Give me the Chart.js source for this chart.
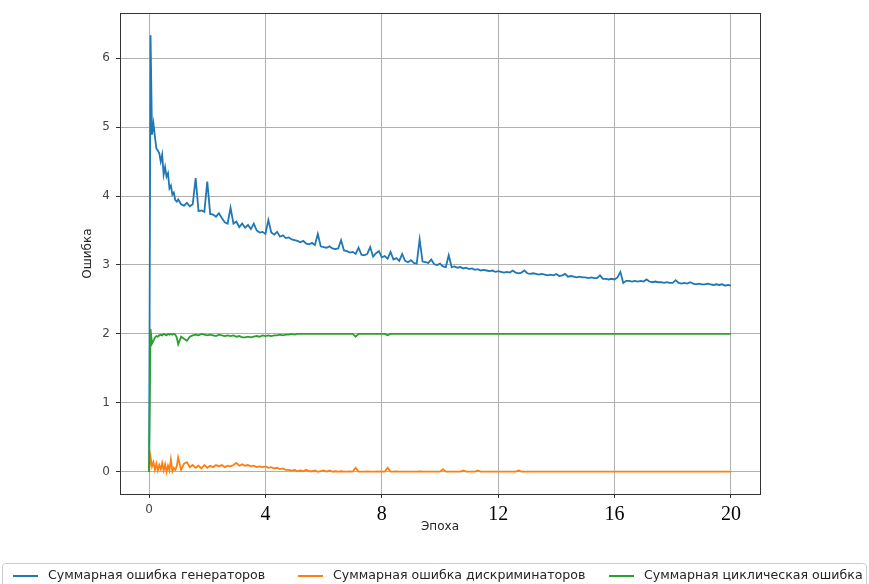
<!DOCTYPE html>
<html>
<head>
<meta charset="utf-8">
<script src="https://cdn.jsdelivr.net/npm/chart.js@4.4.0/dist/chart.umd.min.js"></script>
<style>
  html, body { margin: 0; padding: 0; background: #fff; }
</style>
</head>
<body>
<canvas id="lossChart" width="869" height="584"></canvas>
<script>
// epochs (x values)
var epochs = [
  0, 0.05, 0.1, 0.15, 0.2, 0.25, 0.3, 0.35, 0.4, 0.45, 0.5, 0.55, 0.6, 0.65, 0.7, 0.75, 0.8, 0.85, 0.9, 0.95, 1.0,
  1.1, 1.2, 1.3, 1.4, 1.5, 1.6, 1.7, 1.8, 1.9, 2.0,
  2.1, 2.2, 2.3, 2.4, 2.5, 2.6, 2.7, 2.8, 2.9, 3.0,
  3.1, 3.2, 3.3, 3.4, 3.5, 3.6, 3.7, 3.8, 3.9, 4.0,
  4.1, 4.2, 4.3, 4.4, 4.5, 4.6, 4.7, 4.8, 4.9, 5.0,
  5.1, 5.2, 5.3, 5.4, 5.5, 5.6, 5.7, 5.8, 5.9, 6.0,
  6.1, 6.2, 6.3, 6.4, 6.5, 6.6, 6.7, 6.8, 6.9, 7.0,
  7.1, 7.2, 7.3, 7.4, 7.5, 7.6, 7.7, 7.8, 7.9, 8.0,
  8.1, 8.2, 8.3, 8.4, 8.5, 8.6, 8.7, 8.8, 8.9, 9.0,
  9.1, 9.2, 9.3, 9.4, 9.5, 9.6, 9.7, 9.8, 9.9, 10.0,
  10.1, 10.2, 10.3, 10.4, 10.5, 10.6, 10.7, 10.8, 10.9, 11.0,
  11.1, 11.2, 11.3, 11.4, 11.5, 11.6, 11.7, 11.8, 11.9, 12.0,
  12.1, 12.2, 12.3, 12.4, 12.5, 12.6, 12.7, 12.8, 12.9, 13.0,
  13.1, 13.2, 13.3, 13.4, 13.5, 13.6, 13.7, 13.8, 13.9, 14.0,
  14.1, 14.2, 14.3, 14.4, 14.5, 14.6, 14.7, 14.8, 14.9, 15.0,
  15.1, 15.2, 15.3, 15.4, 15.5, 15.6, 15.7, 15.8, 15.9, 16.0,
  16.1, 16.2, 16.3, 16.4, 16.5, 16.6, 16.7, 16.8, 16.9, 17.0,
  17.1, 17.2, 17.3, 17.4, 17.5, 17.6, 17.7, 17.8, 17.9, 18.0,
  18.1, 18.2, 18.3, 18.4, 18.5, 18.6, 18.7, 18.8, 18.9, 19.0,
  19.1, 19.2, 19.3, 19.4, 19.5, 19.6, 19.7, 19.8, 19.9, 20.0
];

// Суммарная ошибка генераторов
var genLoss = [
  0, 6.33, 4.89, 5.05, 4.86, 4.69, 4.66, 4.62, 4.5, 4.6, 4.31, 4.42, 4.28, 4.33, 4.11, 4.15, 4.02, 4.05, 3.94, 3.92, 3.95,
  3.88, 3.86, 3.9, 3.85, 3.88, 4.26, 3.78, 3.79, 3.77, 4.21,
  3.74, 3.73, 3.7, 3.75, 3.68, 3.62, 3.6, 3.83, 3.6, 3.63,
  3.55, 3.6, 3.54, 3.58, 3.52, 3.6, 3.5, 3.47, 3.48, 3.45,
  3.65, 3.47, 3.44, 3.48, 3.41, 3.43, 3.39, 3.4, 3.37, 3.36,
  3.35, 3.33, 3.35, 3.31, 3.3, 3.32, 3.29, 3.45, 3.27, 3.26,
  3.25, 3.27, 3.24, 3.23, 3.24, 3.36, 3.21, 3.2, 3.18, 3.19,
  3.16, 3.25, 3.15, 3.14, 3.16, 3.26, 3.12, 3.17, 3.2, 3.11,
  3.13, 3.09, 3.19, 3.08, 3.1, 3.06, 3.16, 3.06, 3.04, 3.07,
  3.03, 3.02, 3.37, 3.05, 3.04, 3.03, 3.08, 3.01, 3.0, 3.02,
  2.98, 2.97, 3.14, 2.97, 2.98, 2.96, 2.97, 2.95, 2.96, 2.94,
  2.95, 2.93, 2.94, 2.92, 2.93, 2.92, 2.91, 2.92, 2.9, 2.91,
  2.9, 2.89, 2.9, 2.89, 2.92, 2.89, 2.88, 2.89, 2.92, 2.88,
  2.87, 2.88, 2.87, 2.86, 2.87, 2.86, 2.85, 2.86, 2.85, 2.87,
  2.84, 2.85, 2.87, 2.83, 2.84, 2.83, 2.82, 2.83, 2.82, 2.82,
  2.81, 2.82, 2.81, 2.81, 2.85, 2.8, 2.8, 2.79, 2.8, 2.79,
  2.82, 2.9, 2.74, 2.77, 2.77, 2.76, 2.77, 2.76, 2.77, 2.76,
  2.79, 2.76, 2.75, 2.76, 2.75, 2.75, 2.74, 2.75, 2.74, 2.74,
  2.78, 2.74, 2.73, 2.74, 2.73, 2.75, 2.73, 2.72, 2.73, 2.72,
  2.72, 2.73, 2.72, 2.71, 2.72, 2.71, 2.72, 2.7, 2.71, 2.7
];

// Суммарная ошибка дискриминаторов
var discLoss = [
  0, 0.22, 0.08, 0.14, 0.03, 0.12, 0.02, 0.1, 0.04, 0.13, 0.02, 0.11, 0.0, 0.09, 0.02, 0.18, 0.01, 0.06, 0.03, 0.08, 0.21,
  0.03, 0.12, 0.14, 0.07, 0.1, 0.06, 0.09, 0.05, 0.1, 0.06,
  0.09, 0.07, 0.1, 0.08, 0.1, 0.07, 0.09, 0.08, 0.1, 0.13,
  0.09, 0.11, 0.09, 0.1, 0.08, 0.09, 0.07, 0.08, 0.07, 0.08,
  0.06, 0.07, 0.05, 0.06, 0.04, 0.05, 0.03, 0.03, 0.02, 0.03,
  0.01, 0.02, 0.01, 0.03, 0.01, 0.01, 0.02, 0.0, 0.01, 0.02,
  0.005, 0.02, 0.005, 0.01, 0.004, 0.01, 0.005, 0.004, 0.008, 0.005,
  0.06, 0.006, 0.004, 0.005, 0.007, 0.004, 0.005, 0.004, 0.006, 0.005,
  0.004, 0.06, 0.005, 0.004, 0.006, 0.004, 0.005, 0.004, 0.005, 0.004,
  0.005, 0.004, 0.006, 0.004, 0.005, 0.004, 0.004, 0.005, 0.004, 0.005,
  0.04, 0.005, 0.004, 0.005, 0.004, 0.004, 0.005, 0.02, 0.004, 0.005,
  0.004, 0.005, 0.02, 0.004, 0.005, 0.004, 0.004, 0.005, 0.004, 0.004,
  0.005, 0.004, 0.004, 0.005, 0.004, 0.004, 0.02, 0.004, 0.005, 0.004,
  0.004, 0.005, 0.004, 0.004, 0.005, 0.004, 0.004, 0.005, 0.004, 0.004,
  0.005, 0.004, 0.004, 0.005, 0.004, 0.004, 0.005, 0.004, 0.004, 0.005,
  0.004, 0.004, 0.005, 0.004, 0.004, 0.005, 0.004, 0.004, 0.005, 0.004,
  0.004, 0.005, 0.004, 0.004, 0.005, 0.004, 0.004, 0.005, 0.004, 0.004,
  0.005, 0.004, 0.004, 0.005, 0.004, 0.004, 0.005, 0.004, 0.004, 0.005,
  0.004, 0.004, 0.005, 0.004, 0.004, 0.005, 0.004, 0.004, 0.005, 0.004,
  0.004, 0.005, 0.004, 0.004, 0.005, 0.004, 0.004, 0.005, 0.004, 0.004
];

// Суммарная циклическая ошибка
var cycleLoss = [
  0, 2.07, 1.86, 1.9, 1.95, 1.97, 1.96, 1.98, 1.99, 1.98, 2.0, 1.99, 1.98, 2.0, 1.99, 2.0, 1.99, 2.0, 1.99, 1.95, 1.85,
  1.96, 1.93, 1.9, 1.96, 1.98, 1.99, 1.98, 2.0, 1.99, 1.98,
  1.99, 1.98, 1.97, 1.99, 1.98, 1.97, 1.98, 1.97, 1.98, 1.96,
  1.97, 1.95, 1.95, 1.96, 1.95, 1.96, 1.97, 1.96, 1.98, 1.97,
  1.98, 1.97, 1.98, 1.98, 1.99, 1.98, 1.99, 1.99, 2.0, 1.99,
  2.0, 2.0, 2.0, 2.0, 2.0, 2.0, 2.0, 2.0, 2.0, 2.0,
  2.0, 2.0, 2.0, 2.0, 2.0, 2.0, 2.0, 2.0, 2.0, 2.0,
  1.96, 2.0, 2.0, 2.0, 2.0, 2.0, 2.0, 2.0, 2.0, 2.0,
  2.0, 1.98, 2.0, 2.0, 2.0, 2.0, 2.0, 2.0, 2.0, 2.0,
  2.0, 2.0, 2.0, 2.0, 2.0, 2.0, 2.0, 2.0, 2.0, 2.0,
  2.0, 2.0, 2.0, 2.0, 2.0, 2.0, 2.0, 2.0, 2.0, 2.0,
  2.0, 2.0, 2.0, 2.0, 2.0, 2.0, 2.0, 2.0, 2.0, 2.0,
  2.0, 2.0, 2.0, 2.0, 2.0, 2.0, 2.0, 2.0, 2.0, 2.0,
  2.0, 2.0, 2.0, 2.0, 2.0, 2.0, 2.0, 2.0, 2.0, 2.0,
  2.0, 2.0, 2.0, 2.0, 2.0, 2.0, 2.0, 2.0, 2.0, 2.0,
  2.0, 2.0, 2.0, 2.0, 2.0, 2.0, 2.0, 2.0, 2.0, 2.0,
  2.0, 2.0, 2.0, 2.0, 2.0, 2.0, 2.0, 2.0, 2.0, 2.0,
  2.0, 2.0, 2.0, 2.0, 2.0, 2.0, 2.0, 2.0, 2.0, 2.0,
  2.0, 2.0, 2.0, 2.0, 2.0, 2.0, 2.0, 2.0, 2.0, 2.0,
  2.0, 2.0, 2.0, 2.0, 2.0, 2.0, 2.0, 2.0, 2.0, 2.0
];

var xTicks = [0, 4, 8, 12, 16, 20];
var yTicks = [0, 1, 2, 3, 4, 5, 6];

function points(ys) {
    return epochs.map(function (x, i) { return { x: x, y: ys[i] }; });
}

// black frame around the plot area (matplotlib spines)
var frame = {
    id: 'frame',
    afterDatasetsDraw: function (chart) {
        var ctx = chart.ctx, a = chart.chartArea;
        ctx.save();
        ctx.strokeStyle = '#333';
        ctx.lineWidth = 1;
        ctx.strokeRect(Math.round(a.left) + 0.5, Math.round(a.top) + 0.5,
            Math.round(a.right - a.left), Math.round(a.bottom - a.top));
        ctx.restore();
    }
};

// legend in a rounded box under the axis
var legendX = [13, 298, 609];
var boxLegend = {
    id: 'boxLegend',
    afterDraw: function (chart) {
        var ctx = chart.ctx;
        ctx.save();
        ctx.strokeStyle = '#cccccc';
        ctx.lineWidth = 1;
        ctx.beginPath();
        ctx.roundRect(2.5, 563.5, 864, 40, 3);
        ctx.stroke();
        ctx.font = '12.6px "DejaVu Sans"';
        ctx.textBaseline = 'middle';
        ctx.fillStyle = '#262626';
        chart.data.datasets.forEach(function (ds, i) {
            var x0 = legendX[i], y0 = 576;
            ctx.strokeStyle = ds.borderColor;
            ctx.lineWidth = 2;
            ctx.beginPath();
            ctx.moveTo(x0, y0);
            ctx.lineTo(x0 + 25, y0);
            ctx.stroke();
            ctx.fillText(ds.label, x0 + 35, y0);
        });
        ctx.restore();
    }
};

var chart1 = document.getElementById('lossChart');
var myChart1 = new Chart(chart1, {
    type: 'line',
    data: {
        datasets: [{
            label: 'Суммарная ошибка генераторов',
            data: points(genLoss),
            borderColor: '#1f77b4',
            order: 3
        }, {
            label: 'Суммарная ошибка дискриминаторов',
            data: points(discLoss),
            borderColor: '#ff7f0e',
            order: 2
        }, {
            label: 'Суммарная циклическая ошибка',
            data: points(cycleLoss),
            borderColor: '#2ca02c',
            order: 1
        }]
    },
    options: {
        responsive: false,
        animation: false,
        elements: {
            line: { borderWidth: 1.8, tension: 0, fill: false },
            point: { radius: 0 }
        },
        layout: { padding: { top: 11, right: 109, bottom: 50, left: 0 } },
        plugins: {
            legend: { display: false },
            tooltip: { enabled: false }
        },
        scales: {
            x: {
                type: 'linear',
                min: -1,
                max: 21,
                afterBuildTicks: function (s) { s.ticks = xTicks.map(function (v) { return { value: v }; }); },
                afterFit: function (s) { s.height = 40; },
                border: { display: false },
                grid: { color: '#b0b0b0', lineWidth: 1, tickLength: 4, tickColor: '#333' },
                ticks: {
                    padding: 5,
                    maxRotation: 0,
                    autoSkip: false,
                    font: function (c) {
                        return c.tick && c.tick.value === 0
                            ? { family: 'DejaVu Sans', size: 12 }
                            : { family: 'Liberation Serif', size: 20 };
                    },
                    color: function (c) { return c.tick && c.tick.value === 0 ? '#444' : '#000'; }
                },
                title: {
                    display: true,
                    text: 'Эпоха',
                    color: '#262626',
                    font: { family: 'DejaVu Sans', size: 12 },
                    padding: { top: 0, bottom: 0 }
                }
            },
            y: {
                min: -0.32,
                max: 6.65,
                afterBuildTicks: function (s) { s.ticks = yTicks.map(function (v) { return { value: v }; }); },
                afterFit: function (s) { s.width = 120; },
                border: { display: false },
                grid: { color: '#b0b0b0', lineWidth: 1, tickLength: 4, tickColor: '#333' },
                ticks: {
                    padding: 6,
                    color: '#444',
                    font: { family: 'DejaVu Sans', size: 12 }
                },
                title: {
                    display: true,
                    text: 'Ошибка',
                    color: '#262626',
                    font: { family: 'DejaVu Sans', size: 12 },
                    padding: { top: 81, bottom: 0 }
                }
            }
        }
    },
    plugins: [frame, boxLegend]
});
</script>
</body>
</html>
